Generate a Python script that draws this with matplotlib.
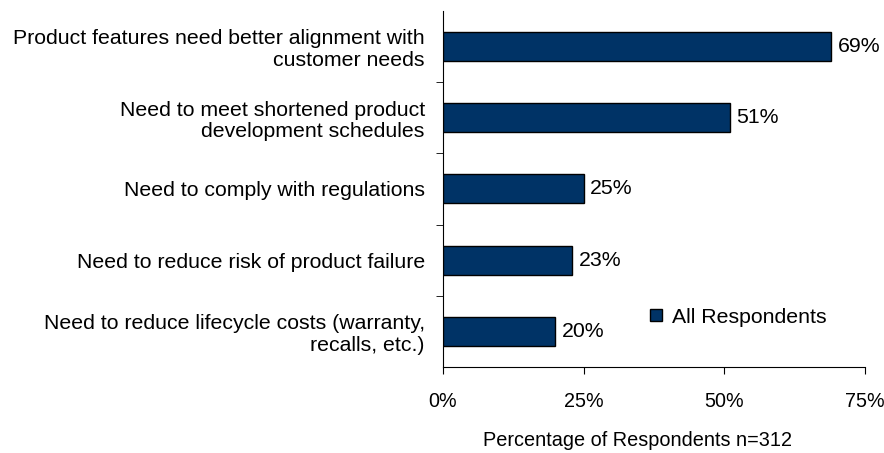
import matplotlib
matplotlib.use("Agg")
import matplotlib.pyplot as plt
from matplotlib.patches import Patch

# ── data ─────────────────────────────────────
categories = [
    "Product features need better alignment with\ncustomer needs",
    "Need to meet shortened product\ndevelopment schedules",
    "Need to comply with regulations",
    "Need to reduce risk of product failure",
    "Need to reduce lifecycle costs (warranty,\nrecalls, etc.)",
]
values = [69, 51, 25, 23, 20]
x_ticks = [0, 25, 50, 75]
x_tick_labels = ["0%", "25%", "50%", "75%"]
series_name = "All Respondents"

plt.rcParams["font.family"] = ["Liberation Sans", "DejaVu Sans"]
FS = 15.3

fig = plt.figure(figsize=(8.84, 4.53), dpi=100)
ax = fig.add_axes([0.501, 0.19, 0.4775, 0.786])

pos = list(range(len(categories)))[::-1]
ax.barh(pos, values, height=0.41, color="#003366", edgecolor="black",
        linewidth=1.0, zorder=3)

for p, v in zip(pos, values):
    ax.text(v + 1.1, p, f"{v}%", va="center", ha="left", fontsize=FS)

ax.set_xlim(0, 75)
ax.set_ylim(-0.5, len(categories) - 0.5)
ax.set_xticks(x_ticks)
ax.set_xticklabels(x_tick_labels, fontsize=14.2)
ax.tick_params(axis="x", direction="out", length=5, pad=13)

# category labels at bar centres, ticks at the boundaries
ax.set_yticks(pos)
ax.set_yticklabels(categories, fontsize=FS, ha="right", multialignment="right",
                   linespacing=1.15)
ax.tick_params(axis="y", which="major", length=0, pad=13)
ax.set_yticks([p + 0.5 for p in range(len(categories) - 1)], minor=True)
ax.tick_params(axis="y", which="minor", direction="out", length=5)

ax.spines["top"].set_visible(False)
ax.spines["right"].set_visible(False)

ax.set_xlabel("Percentage of Respondents n=312", fontsize=14.3)
ax.xaxis.set_label_coords(0.462, -0.18)

handle = Patch(facecolor="#003366", edgecolor="black", label=series_name)
ax.legend(handles=[handle], loc="center left", bbox_to_anchor=(0.445, 0.14),
          frameon=False, fontsize=FS, handlelength=0.55, handleheight=0.55,
          handletextpad=0.5)

fig.savefig("out.png", dpi=100)
